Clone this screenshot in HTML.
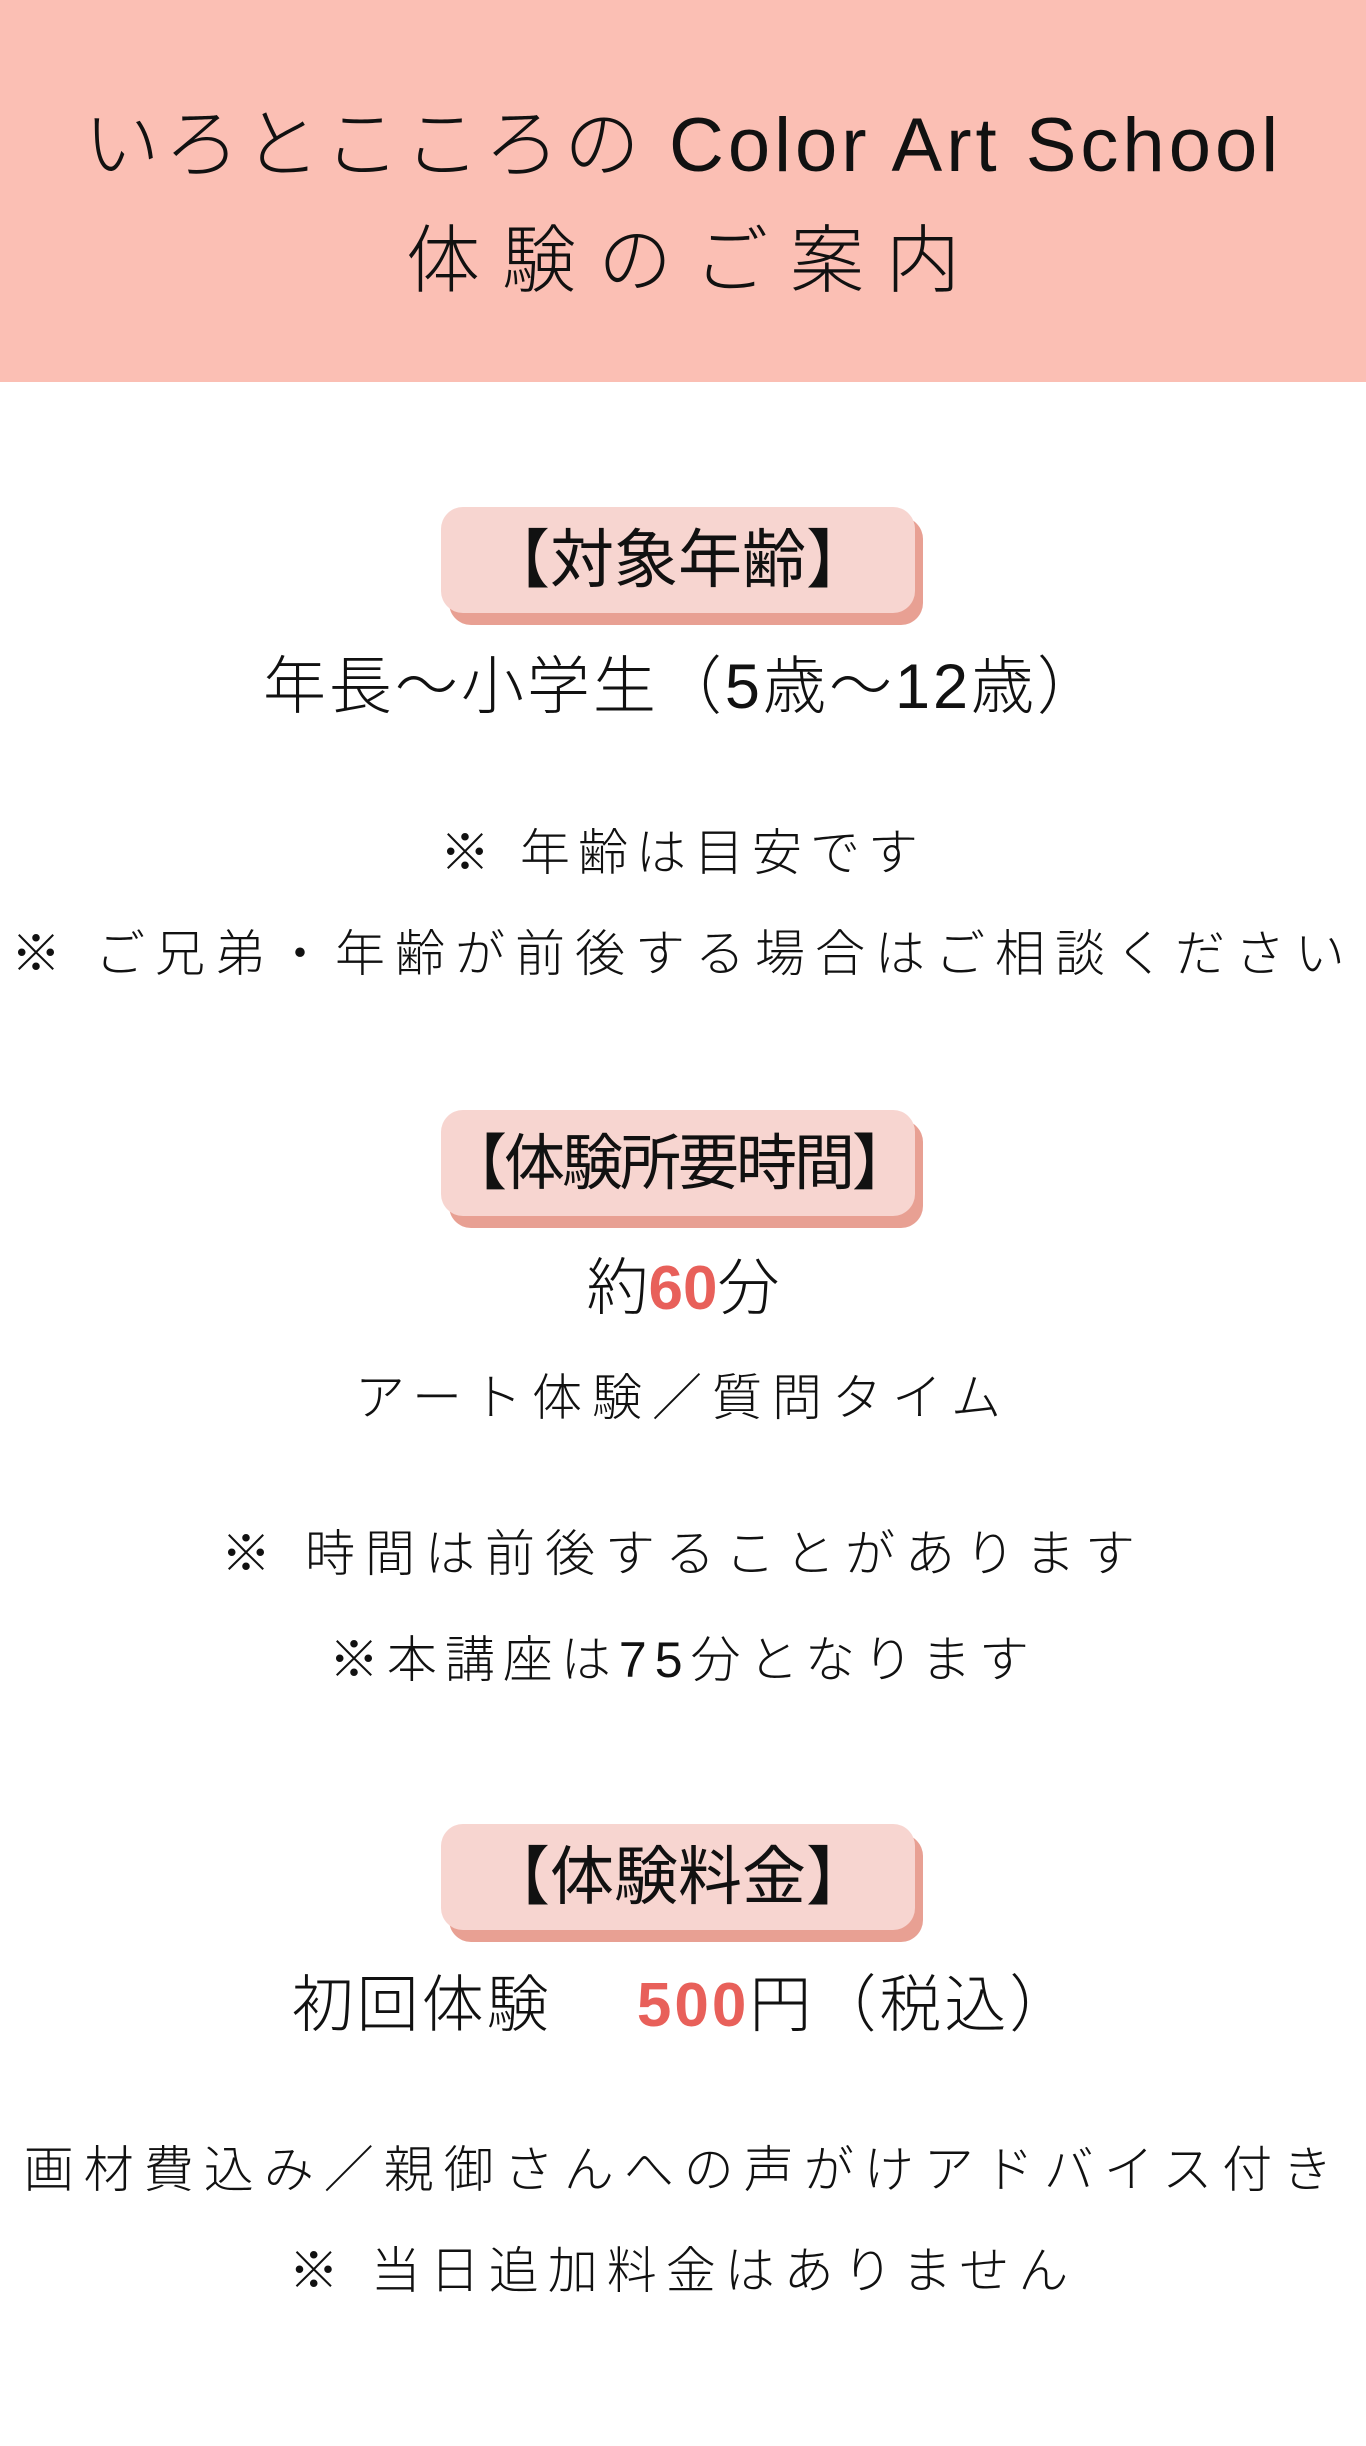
<!DOCTYPE html>
<html><head><meta charset="utf-8"><style>
*{margin:0;padding:0;box-sizing:border-box}
body{width:1366px;height:2446px;background:#fff;position:relative;overflow:hidden;font-family:"Liberation Sans","Noto Sans CJK JP",sans-serif;color:#111;font-weight:300}
.hdr{position:absolute;left:0;top:0;width:1366px;height:382px;background:#fbbfb4}
.t{position:absolute;left:0;width:1366px;text-align:center;white-space:nowrap;line-height:1}
.badge{position:absolute;left:441px;width:482px;height:110px}
.badge .sh{position:absolute;left:8px;top:10px;width:474px;height:108px;background:#e8a093;border-radius:22px}
.badge .bx{position:absolute;left:0;top:0;width:474px;height:106px;background:#f7d5d0;border-radius:22px}
.badge .tx{position:absolute;left:0;top:0;width:474px;height:106px;line-height:106px;text-align:center;font-size:64px;white-space:nowrap;font-weight:400}
.red{color:#e8605a;font-weight:700;font-family:"Liberation Sans",sans-serif}
</style></head><body>
<div class="hdr"></div>
<div class="t" style="top:108px;font-size:76px;letter-spacing:4px">いろとこころの Color Art School</div>
<div class="t" style="top:224px;font-size:74px;letter-spacing:22px;text-indent:22px">体験のご案内</div>

<div class="badge" style="top:507px"><div class="sh"></div><div class="bx"></div><div class="tx">【対象年齢】</div></div>
<div class="t" style="top:656px;font-size:63px;letter-spacing:3px">年長〜小学生（5歳〜12歳）</div>
<div class="t" style="top:828px;font-size:50px;letter-spacing:8px">※ 年齢は目安です</div>
<div class="t" style="top:929px;font-size:50px;letter-spacing:10px">※ ご兄弟・年齢が前後する場合はご相談ください</div>

<div class="badge" style="top:1110px"><div class="sh"></div><div class="bx"></div><div class="tx" style="font-size:61px;letter-spacing:-3px">【体験所要時間】</div></div>
<div class="t" style="top:1258px;font-size:62px">約<span class="red">60</span>分</div>
<div class="t" style="top:1373px;font-size:50px;letter-spacing:10px">アート体験／質問タイム</div>
<div class="t" style="top:1529px;font-size:50px;letter-spacing:10px">※ 時間は前後することがあります</div>
<div class="t" style="top:1635px;font-size:50px;letter-spacing:8px">※本講座は75分となります</div>

<div class="badge" style="top:1824px"><div class="sh"></div><div class="bx"></div><div class="tx">【体験料金】</div></div>
<div class="t" style="top:1975px;font-size:62px;letter-spacing:3px">初回体験　 <span class="red">500</span>円（税込）</div>
<div class="t" style="top:2145px;font-size:50px;letter-spacing:10px">画材費込み／親御さんへの声がけアドバイス付き</div>
<div class="t" style="top:2246px;font-size:50px;letter-spacing:9px">※ 当日追加料金はありません</div>
</body></html>
